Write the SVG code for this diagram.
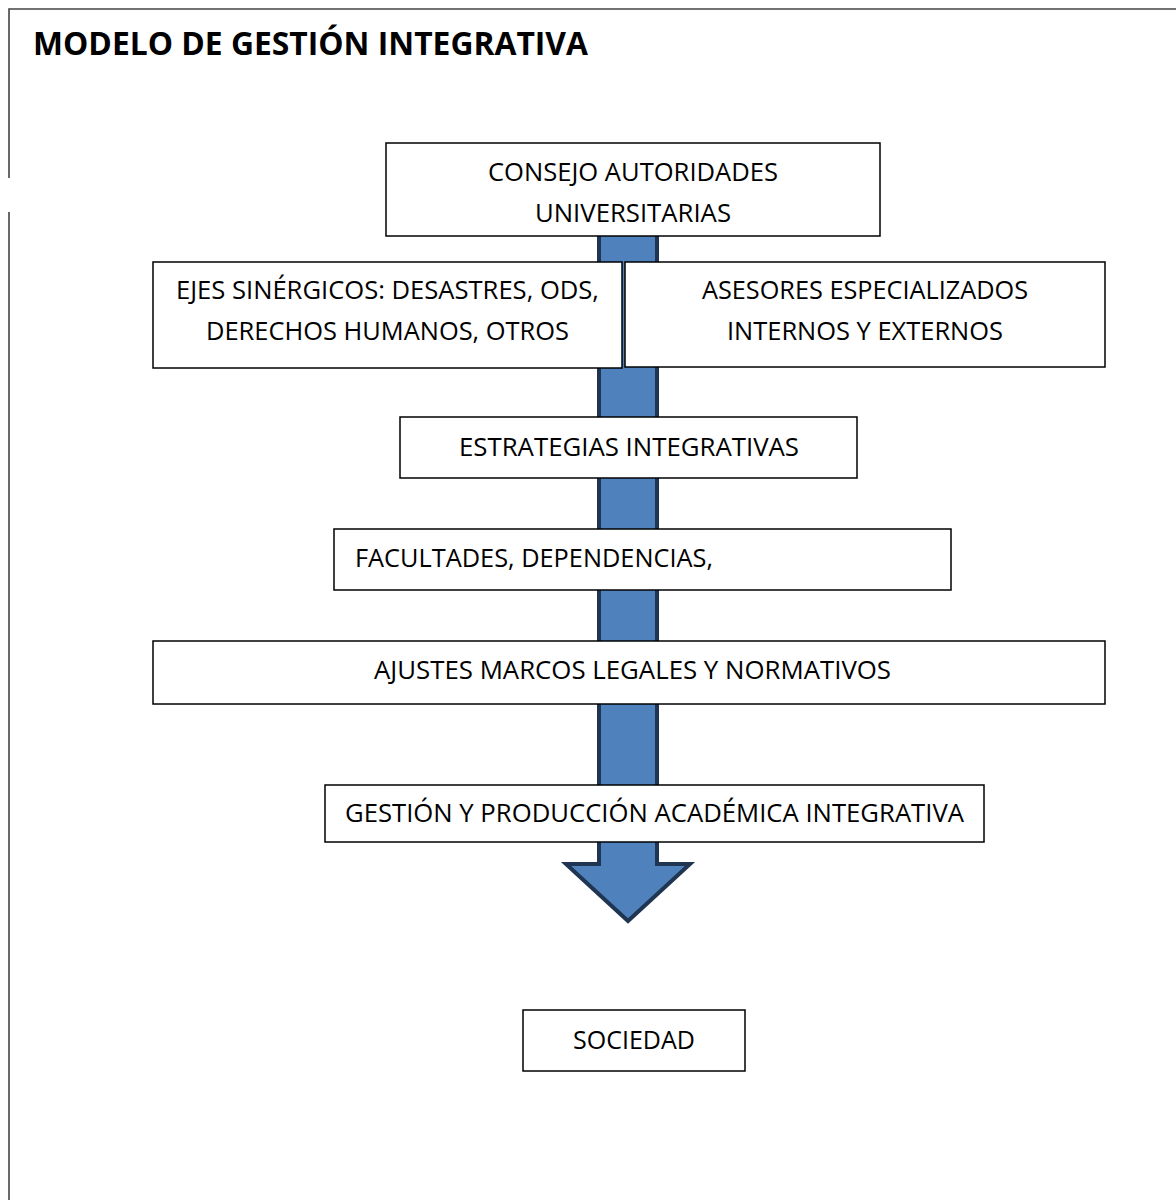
<svg xmlns="http://www.w3.org/2000/svg" width="1176" height="1200" viewBox="0 0 1176 1200">
<style>
.frame{fill:none;stroke:#444;stroke-width:1.6}
.box{fill:#fff;stroke:#000;stroke-width:1.5}
.t{font-family:"Open Sans","Liberation Sans",sans-serif;font-size:25px;fill:#000}
.title{font-family:"Open Sans","Liberation Sans",sans-serif;font-size:32px;font-weight:bold;fill:#000}
.arrow{fill:#4f81bd;stroke:#1f3552;stroke-width:4;stroke-linejoin:miter}
</style>
<rect width="1176" height="1200" fill="#fff"/>
<g id="frame">
<polyline class="frame" points="9,178 9,9 1176,9"/>
<line class="frame" x1="9" y1="212" x2="9" y2="1200"/>
</g>
<text class="title" x="33" y="55" textLength="555" lengthAdjust="spacingAndGlyphs">MODELO DE GESTIÓN INTEGRATIVA</text>
<g id="connectors">
<polygon class="arrow" points="599,228 657,228 657,864 690,864 628,921 566,864 599,864"/>
</g>
<g id="consejo">
<rect class="box" x="386" y="143" width="494" height="93"/>
<text class="t" x="488" y="181" textLength="290" lengthAdjust="spacingAndGlyphs">CONSEJO AUTORIDADES</text>
<text class="t" x="535" y="222" textLength="196" lengthAdjust="spacingAndGlyphs">UNIVERSITARIAS</text>
</g>
<g id="ejes">
<rect class="box" x="153" y="262" width="469" height="106"/>
<text class="t" x="176" y="299" textLength="423" lengthAdjust="spacingAndGlyphs">EJES SINÉRGICOS: DESASTRES, ODS,</text>
<text class="t" x="206" y="340" textLength="363" lengthAdjust="spacingAndGlyphs">DERECHOS HUMANOS, OTROS</text>
</g>
<g id="asesores">
<rect class="box" x="625" y="262" width="480" height="105"/>
<text class="t" x="702" y="299" textLength="326" lengthAdjust="spacingAndGlyphs">ASESORES ESPECIALIZADOS</text>
<text class="t" x="727" y="340" textLength="276" lengthAdjust="spacingAndGlyphs">INTERNOS Y EXTERNOS</text>
</g>
<g id="estrategias">
<rect class="box" x="400" y="417" width="457" height="61"/>
<text class="t" x="459" y="456" textLength="340" lengthAdjust="spacingAndGlyphs">ESTRATEGIAS INTEGRATIVAS</text>
</g>
<g id="facultades">
<rect class="box" x="334" y="529" width="617" height="61"/>
<text class="t" x="355" y="567" textLength="358" lengthAdjust="spacingAndGlyphs">FACULTADES, DEPENDENCIAS,</text>
</g>
<g id="ajustes">
<rect class="box" x="153" y="641" width="952" height="63"/>
<text class="t" x="374" y="679" textLength="517" lengthAdjust="spacingAndGlyphs">AJUSTES MARCOS LEGALES Y NORMATIVOS</text>
</g>
<g id="gestion">
<rect class="box" x="325" y="785" width="659" height="57"/>
<text class="t" x="345" y="822" textLength="619" lengthAdjust="spacingAndGlyphs">GESTIÓN Y PRODUCCIÓN ACADÉMICA INTEGRATIVA</text>
</g>
<g id="sociedad">
<rect class="box" x="523" y="1010" width="222" height="61"/>
<text class="t" x="573" y="1049" textLength="122" lengthAdjust="spacingAndGlyphs">SOCIEDAD</text>
</g>
</svg>
